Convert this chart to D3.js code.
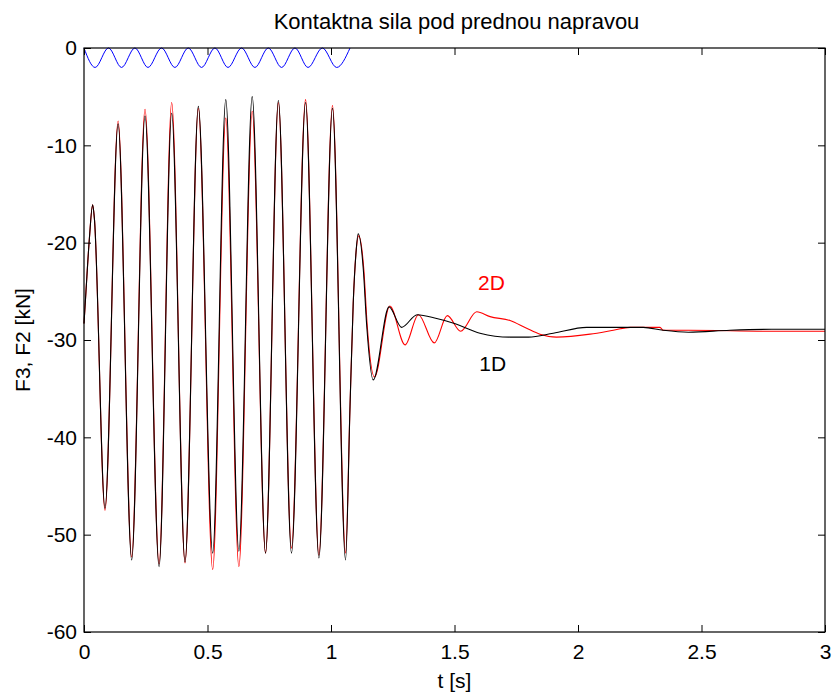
<!DOCTYPE html>
<html>
<head>
<meta charset="utf-8">
<script src="https://cdn.jsdelivr.net/npm/d3@7"></script>
<style>
  html, body { margin: 0; padding: 0; background: #fff; }
  svg { display: block; }
  text { font-family: "Liberation Sans", Arial, Helvetica, sans-serif; fill: #000; }
</style>
</head>
<body>
<svg id="chart" width="833" height="693"></svg>
<script>
// Contact force under the front axle: 1D vs 2D model, plus the road excitation (blue)
const titleText = "Kontaktna sila pod prednou napravou";
const xLabel = "t [s]";
const yLabel = "F3, F2 [kN]";

const xTicks = [0, 0.5, 1, 1.5, 2, 2.5, 3];
const yTicks = [0, -10, -20, -30, -40, -50, -60];
const xTickLabels = ["0", "0.5", "1", "1.5", "2", "2.5", "3"];
const yTickLabels = ["0", "-10", "-20", "-30", "-40", "-50", "-60"];

// 1D model (black): time [s] and force [kN]
const t1D = [0.000, 0.008, 0.022, 0.035, 0.042, 0.085, 0.138, 0.193, 0.247, 0.304, 0.355, 0.409,
             0.463, 0.521, 0.574, 0.627, 0.681, 0.735, 0.787, 0.840, 0.897, 0.951, 1.006, 1.059,
             1.077, 1.090, 1.101, 1.110, 1.131, 1.144, 1.171, 1.235, 1.286, 1.349, 1.428, 1.500,
             1.603, 1.725, 1.800, 1.900, 2.035, 2.264, 2.345, 2.447, 2.615, 2.784, 3.000];
const f1D = [-28.3, -25.0, -19.5, -16.1, -17.5, -47.3, -7.8, -52.6, -7.0, -53.3, -6.7, -52.8,
             -6.0, -51.9, -5.3, -51.7, -5.0, -51.9, -5.4, -51.9, -5.6, -52.4, -6.2, -52.6,
             -36.8, -26.2, -21.1, -19.1, -22.8, -28.3, -34.1, -26.6, -28.7, -27.4, -27.8, -28.3,
             -29.3, -29.7, -29.7, -29.3, -28.7, -28.7, -29.0, -29.2, -29.0, -28.9, -28.9];

// 2D model (red)
const t2D = [0.000, 0.008, 0.022, 0.035, 0.042, 0.085, 0.138, 0.193, 0.247, 0.304, 0.355, 0.409,
             0.463, 0.521, 0.574, 0.627, 0.681, 0.735, 0.787, 0.840, 0.897, 0.951, 1.006, 1.059,
             1.077, 1.090, 1.101, 1.112, 1.133, 1.146, 1.176, 1.238, 1.300, 1.354, 1.418, 1.471,
             1.525, 1.590, 1.644, 1.725, 1.792, 1.846, 1.913, 2.049, 2.143, 2.211, 2.332, 2.345,
             2.447, 2.784, 3.000];
const f2D = [-28.3, -25.0, -19.5, -16.1, -17.5, -47.5, -7.5, -52.3, -6.3, -53.0, -5.6, -52.9,
             -6.2, -53.6, -7.2, -53.3, -6.5, -51.9, -5.6, -51.4, -5.3, -52.1, -5.9, -51.9,
             -36.8, -26.2, -21.1, -19.3, -22.8, -28.3, -33.8, -26.5, -30.5, -27.4, -30.3, -27.5,
             -29.1, -27.1, -27.6, -28.0, -28.8, -29.4, -29.7, -29.4, -29.0, -28.7, -28.7, -29.0,
             -29.0, -29.1, -29.1];

// Road excitation (blue)
const tRoad = [0.000, 0.045, 0.099, 0.152, 0.206, 0.259, 0.314, 0.368, 0.422, 0.476, 0.530,
               0.583, 0.638, 0.692, 0.746, 0.800, 0.854, 0.907, 0.965, 1.023, 1.077];
const fRoad = [0, -2.0, 0, -2.0, 0, -2.0, 0, -2.0, 0, -2.0, 0,
               -2.0, 0, -2.0, 0, -2.0, 0, -2.0, 0, -2.0, 0];

const seriesLabels = [
  { text: "2D", t: 1.65, f: -24.9, color: "#ff0000" },
  { text: "1D", t: 1.655, f: -33.2, color: "#000000" }
];

const svg = d3.select("#chart");
const margin = { left: 84, right: 8, top: 48, bottom: 61 };
const W = 833, H = 693;
const plotW = W - margin.left - margin.right;
const plotH = H - margin.top - margin.bottom;

const x = d3.scaleLinear().domain([0, 3]).range([margin.left, margin.left + plotW]);
const y = d3.scaleLinear().domain([-60, 0]).range([margin.top + plotH, margin.top]);

const fontSize = 21;
const tickLen = 7;

// series
const line = d3.line().x(d => x(d[0])).y(d => y(d[1])).curve(d3.curveMonotoneX);
const zip = (a, b) => a.map((v, i) => [v, b[i]]);

const plot = svg.append("g");
plot.append("path").datum(zip(tRoad, fRoad)).attr("d", line)
  .attr("fill", "none").attr("stroke", "#0000ff").attr("stroke-width", 1);
plot.append("path").datum(zip(t2D, f2D)).attr("d", line)
  .attr("fill", "none").attr("stroke", "#ff0000").attr("stroke-width", 1.1);
plot.append("path").datum(zip(t1D, f1D)).attr("d", line)
  .attr("fill", "none").attr("stroke", "#000000").attr("stroke-width", 1.1);

// axes: bottom/left with labels, top/right ticks only, all ticks pointing inward
const axBottom = d3.axisBottom(x).tickValues(xTicks).tickSize(-tickLen).tickPadding(12)
  .tickFormat((d, i) => xTickLabels[i]);
const axTop = d3.axisTop(x).tickValues(xTicks).tickSize(-tickLen).tickFormat("");
const axLeft = d3.axisLeft(y).tickValues(yTicks).tickSize(-tickLen).tickPadding(7)
  .tickFormat((d, i) => yTickLabels[i]);
const axRight = d3.axisRight(y).tickValues(yTicks).tickSize(-tickLen).tickFormat("");

function style(g) {
  g.select(".domain").remove();
  g.selectAll(".tick line").attr("stroke", "#000").attr("stroke-width", 1);
  g.selectAll(".tick text").attr("font-size", fontSize)
    .attr("font-family", "'Liberation Sans', Arial, sans-serif").attr("fill", "#000");
}

svg.append("g").attr("transform", `translate(0,${margin.top + plotH})`).call(axBottom).call(style);
svg.append("g").attr("transform", `translate(0,${margin.top})`).call(axTop).call(style);
svg.append("g").attr("transform", `translate(${margin.left},0)`).call(axLeft).call(style);
svg.append("g").attr("transform", `translate(${margin.left + plotW},0)`).call(axRight).call(style);

// frame
svg.append("rect").attr("x", margin.left).attr("y", margin.top)
  .attr("width", plotW).attr("height", plotH)
  .attr("fill", "none").attr("stroke", "#000").attr("stroke-width", 1.2);

// title and axis labels
svg.append("text").attr("x", margin.left + plotW / 2 + 2).attr("y", 29)
  .attr("text-anchor", "middle").attr("font-size", 22).text(titleText);
svg.append("text").attr("x", margin.left + plotW / 2).attr("y", 688)
  .attr("text-anchor", "middle").attr("font-size", fontSize).text(xLabel);
svg.append("text").attr("transform", `translate(30,${margin.top + plotH / 2}) rotate(-90)`)
  .attr("text-anchor", "middle").attr("font-size", fontSize).text(yLabel);

// series labels
seriesLabels.forEach(s => {
  svg.append("text").attr("x", x(s.t)).attr("y", y(s.f))
    .attr("text-anchor", "middle").attr("font-size", fontSize)
    .style("fill", s.color).text(s.text);
});
</script>
</body>
</html>
